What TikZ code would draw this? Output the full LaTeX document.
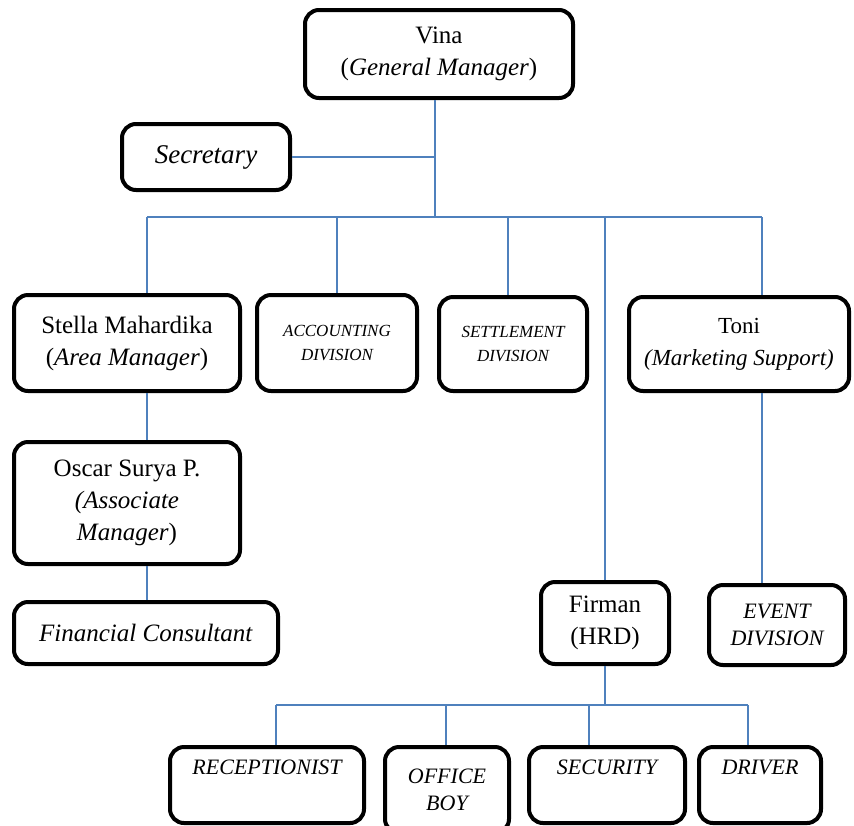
\documentclass[tikz,border=0pt]{standalone}
\usepackage{fontspec}
\setmainfont{Liberation Serif}
\usepackage{xcolor}
\usetikzlibrary{positioning}
\definecolor{linkblue}{HTML}{4F81BD}

\begin{document}
\begin{tikzpicture}[x=0.5pt, y=-0.5pt]
    % Styles
    \tikzstyle{box} = [rectangle, rounded corners=7pt, draw=black, line width=2pt, fill=white, align=center, inner sep=1pt]
    \tikzstyle{big} = [font=\fontsize{12.5}{16}\selectfont]
    \tikzstyle{small} = [font=\fontsize{8.5}{12}\selectfont\itshape]
    \tikzstyle{mid} = [font=\fontsize{11}{13.5}\selectfont\itshape]
    \tikzstyle{link} = [draw=linkblue, line width=0.6pt]

    \useasboundingbox (0,0) rectangle (854,825);

    % Nodes - using absolute positioning
    \node[box, big, minimum width=134pt, minimum height=44pt] (vina) at (439,54) {Vina\\(\textit{General Manager})};
    \node[box, font=\fontsize{13.5}{16}\selectfont, minimum width=84pt, minimum height=33pt] (sec) at (206,157) {\textit{Secretary}};
    \node[box, big, minimum width=113pt, minimum height=48pt] (stella) at (127,343) {Stella Mahardika\\(\textit{Area Manager})};
    \node[box, small, minimum width=80pt, minimum height=48pt] (acct) at (337,343) {ACCOUNTING\\DIVISION};
    \node[box, small, minimum width=74pt, minimum height=47pt] (settle) at (513,344) {SETTLEMENT\\DIVISION};
    \node[box, font=\fontsize{11.5}{16}\selectfont, minimum width=110pt, minimum height=47pt] (toni) at (739,344) {Toni\\\textit{(Marketing Support)}};
    \node[box, big, minimum width=113pt, minimum height=61pt] (oscar) at (127,503) {Oscar Surya P.\\\textit{(Associate}\\\textit{Manager})};
    \node[box, big, minimum width=132pt, minimum height=31pt] (fincon) at (146,633) {\textit{Financial Consultant}};
    \node[box, big, minimum width=64pt, minimum height=41pt] (firman) at (605,623) {Firman\\(HRD)};
    \node[box, mid, minimum width=68pt, minimum height=40pt] (event) at (777,625) {EVENT\\DIVISION};

    \node[box, mid, minimum width=97pt, minimum height=38pt] (recep) at (267,785) {RECEPTIONIST\\\strut};
    \node[box, mid, minimum width=62pt, minimum height=43pt] (office) at (447,790) {OFFICE\\BOY};
    \node[box, mid, minimum width=78pt, minimum height=38pt] (secur) at (607,785) {SECURITY\\\strut};
    \node[box, mid, minimum width=61pt, minimum height=38pt] (driver) at (760,785) {DRIVER\\\strut};

    % Bus points
    \coordinate (trunk) at (435,217);
    \coordinate (busL) at (147,217);
    \coordinate (busR) at (762,217);
    \coordinate (dAcct) at (337,217);
    \coordinate (dSettle) at (508,217);
    \coordinate (dHrd) at (605,217);
    \coordinate (lowL) at (276,705);
    \coordinate (lowR) at (748,705);
    \coordinate (dOffice) at (446,705);
    \coordinate (dSecur) at (589,705);

    % Lines
    \draw[link] (trunk |- vina.south) -- (trunk);
    \draw[link] (sec.east) -- (sec.east -| trunk);
    \draw[link] (busL) -- (busR);
    \draw[link] (busL) -- (busL |- stella.north);
    \draw[link] (dAcct) -- (dAcct |- acct.north);
    \draw[link] (dSettle) -- (dSettle |- settle.north);
    \draw[link] (dHrd) -- (firman.north);
    \draw[link] (busR) -- (busR |- toni.north);
    \draw[link] (stella.south -| busL) -- (oscar.north -| busL);
    \draw[link] (oscar.south -| busL) -- (fincon.north -| busL);
    \draw[link] (toni.south -| busR) -- (event.north -| busR);

    \draw[link] (firman.south) -- (firman.south |- lowL);
    \draw[link] (lowL) -- (lowR);
    \draw[link] (lowL) -- (lowL |- recep.north);
    \draw[link] (dOffice) -- (dOffice |- office.north);
    \draw[link] (dSecur) -- (dSecur |- secur.north);
    \draw[link] (lowR) -- (lowR |- driver.north);
\end{tikzpicture}
\end{document}
